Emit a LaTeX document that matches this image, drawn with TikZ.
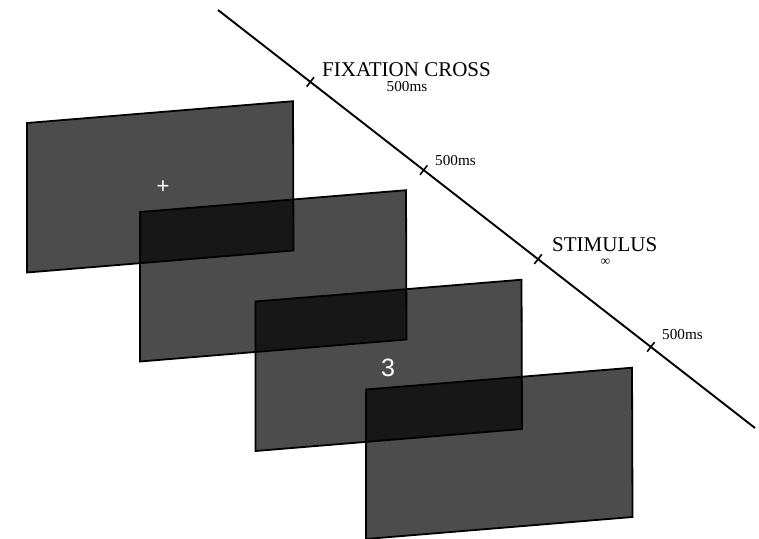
\documentclass[tikz,border=0pt]{standalone}
\usepackage{fontspec}
\setmainfont{Liberation Serif}
\newfontfamily\arialfont{Liberation Sans}
\usetikzlibrary{calc}
\begin{document}
\begin{tikzpicture}[x=1pt,y=-1pt,
  screen/.style={draw=black, line width=1.8pt, fill=black, fill opacity=0.7, draw opacity=1, line join=miter},
  timeline/.style={draw=black, line width=1.9pt},
  tickmark/.style={draw=black, line width=1.6pt},
  lbl/.style={inner sep=0pt, font=\fontsize{21}{22}\selectfont},
  small/.style={inner sep=0pt, font=\fontsize{15.2}{17}\selectfont},
  onscreen/.style={inner sep=0pt, text=white}]
\useasboundingbox (0,0) rectangle (759,538);
% screens
\foreach \x/\y/\n in {27/123/1, 140/212/2, 255.5/301.5/3, 366/389.5/4}{
  \coordinate (s\n tl) at (\x,\y);
  \coordinate (s\n tr) at (\x+266,\y-21.8);
  \coordinate (s\n br) at (\x+266.5,\y+127.5);
  \coordinate (s\n bl) at (\x,\y+149.5);
  \path[screen] (s\n tl) -- (s\n tr) -- (s\n br) -- (s\n bl) -- cycle;
}
\node[onscreen, font=\arialfont\fontsize{22}{22}\selectfont] (plus) at (163,187) {+};
\node[onscreen, font=\arialfont\fontsize{25}{25}\selectfont] (three) at (388,367.5) {3};
% timeline
\coordinate (ls) at (218,10);
\coordinate (le) at (755,428);
\draw[timeline] (ls) -- (le);
\path (ls) -- (le)
  coordinate[pos=0.172] (t1)
  coordinate[pos=0.383] (t2)
  coordinate[pos=0.596] (t3)
  coordinate[pos=0.806] (t4);
\foreach \t in {t1,t2,t3,t4}{
  \draw[tickmark] ($(\t)!6pt!90:(le)$) -- ($(\t)!6pt!-90:(le)$);
}
% labels
\node[lbl, anchor=base west] (fix) at (322,76) {FIXATION CROSS};
\node[small, anchor=base] (d1) at (407,91.5) {500ms};
\node[small, anchor=base west] (d2) at (435,165) {500ms};
\node[lbl, anchor=base west] (stim) at (552,251.7) {STIMULUS};
\node[small, anchor=base, text height=5pt, text depth=0pt, font=\fontsize{13.5}{15}\selectfont] (inf) at (605.5,265.5) {∞};
\node[small, anchor=base west] (d4) at (662,339) {500ms};
\end{tikzpicture}
\end{document}
